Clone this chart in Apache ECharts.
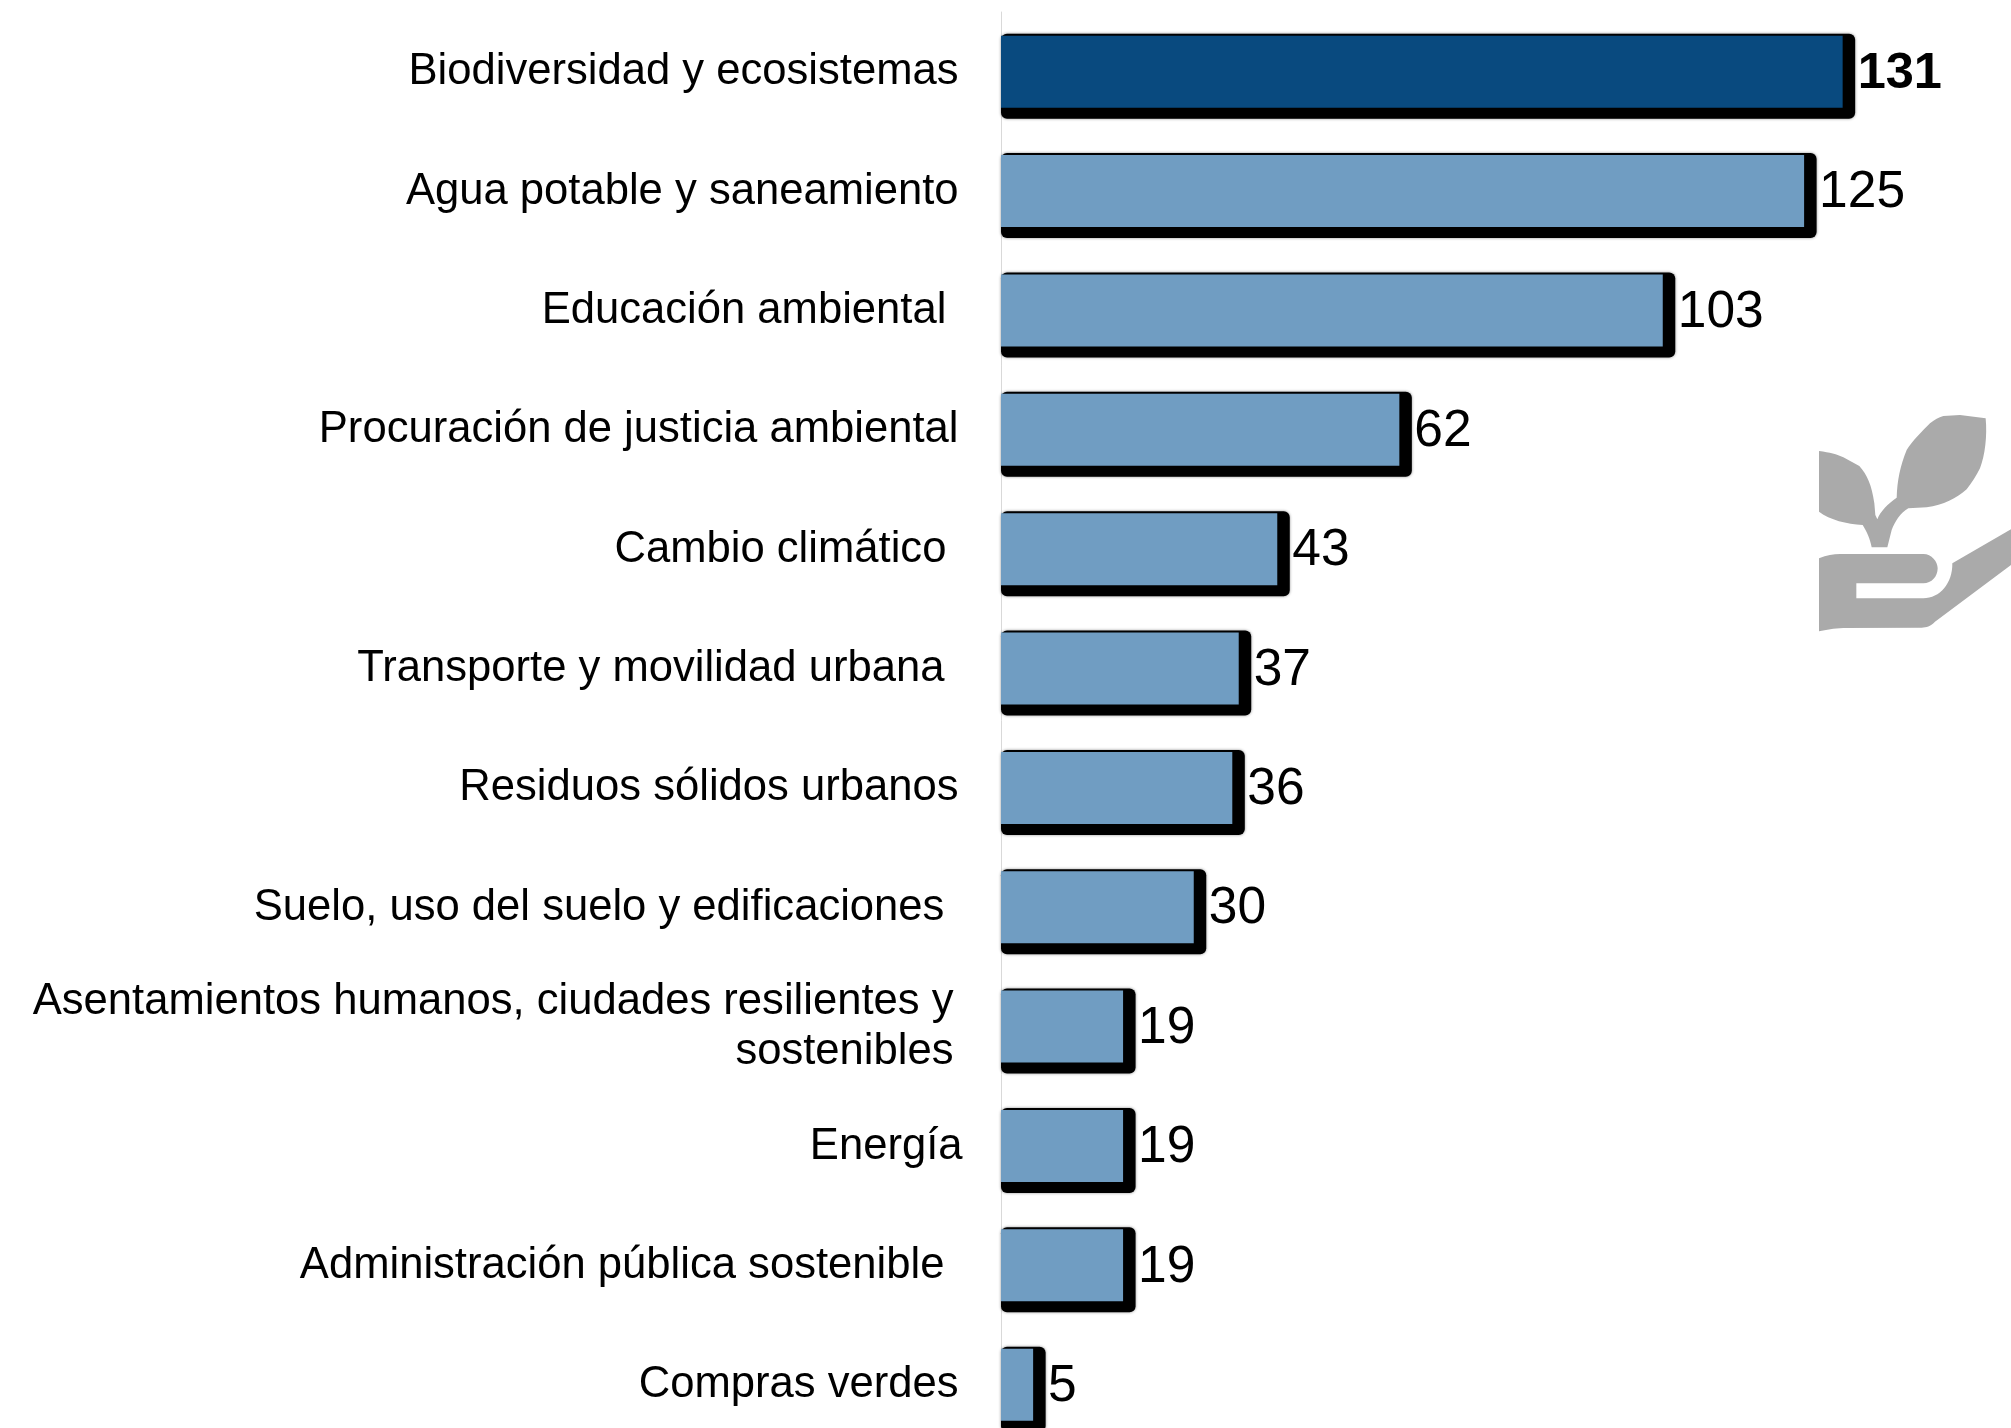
<!DOCTYPE html>
<html><head><meta charset="utf-8">
<style>html,body{margin:0;padding:0;background:#fff}#c{width:2011px;height:1428px}</style>
<script src="https://cdn.jsdelivr.net/npm/echarts@6/dist/echarts.min.js"></script>
</head><body><div id="c"></div>
<script>
const categories = [
  "Biodiversidad y ecosistemas",
  "Agua potable y saneamiento",
  "Educación ambiental ",
  "Procuración de justicia ambiental",
  "Cambio climático ",
  "Transporte y movilidad urbana ",
  "Residuos sólidos urbanos",
  "Suelo, uso del suelo y edificaciones ",
  "Asentamientos humanos, ciudades resilientes y\nsostenibles",
  "Energía",
  "Administración pública sostenible ",
  "Compras verdes"
];
const values = [131,125,103,62,43,37,36,30,19,19,19,5];
const highlighted = "Biodiversidad y ecosistemas";

const DARK = '#094A7F', LIGHT = '#709DC2';
const FONT = '"Liberation Sans", Arial, sans-serif';
const iconPath = 'M490 48 L540 45 L617 55 C622 110 615 165 600 205 C590 225 575 250 560 268 C530 295 490 315 440 322 L385 325 C360 340 345 365 335 390 L322 442 L275 442 C270 415 260 395 248 375 C200 372 150 360 117 335 L117 153 C150 157 170 163 190 172 L238 198 C262 225 275 255 283 310 L286 345 L292 358 C300 335 325 310 350 293 C352 240 360 200 380 150 C395 125 430 90 450 70 C465 58 475 52 490 48 Z '
 + 'M117 475 C140 465 160 462 180 462 L430 462 C455 462 473 485 473 505 C473 530 455 550 430 550 L229 550 L229 595 L430 595 C480 595 518 550 517 490 L693 388 L693 495 L465 665 C450 680 440 682 425 683 L190 684 C160 685 140 690 117 694 Z';

function labelStyle(pad, top){
  return {color:'#000', fontFamily:FONT, fontSize:43.6, lineHeight:50, padding:[top,pad,0,0]};
}
function labelKey(name){
  if (name.startsWith('Energ')) return 'a';
  if (name.startsWith('Asent')) return 'd';
  if (/^(Transporte|Suelo|Administr)/.test(name)) return 'c';
  return 'b';
}

const chart = echarts.init(document.getElementById('c'), null, {renderer:'canvas'});
chart.setOption({
  animation:false,
  backgroundColor:'#fff',
  grid:{left:1001, top:12, width:1008.7, height:1432.4, outerBoundsMode:'none', containLabel:false},
  xAxis:{type:'value', min:0, max:157, show:false, splitLine:{show:false}},
  yAxis:{type:'category', inverse:true, data:categories,
    axisTick:{show:false},
    axisLine:{show:true, lineStyle:{color:'#d9d9d9', width:1}},
    axisLabel:{margin:38.5, align:'right', interval:0,
      formatter:function(v){
        const k = labelKey(v);
        return v.split('\n').map(l=>'{'+k+'|'+l+'}').join('\n');
      },
      rich:{a:labelStyle(0,1), b:labelStyle(4,1), c:labelStyle(6,1), d:labelStyle(9,0)}}
  },
  series:[
    {type:'custom', name:'icono', coordinateSystem:'none', z:1, silent:true, data:[0],
      renderItem:function(){
        return {type:'path', shape:{pathData:iconPath, x:1819, y:415, width:192, height:216.3}, style:{fill:'#aaaaaa'}};
      }},
    {type:'custom', name:'sombra', z:2, silent:true, clip:false,
      encode:{x:0,y:1},
      data:values.map((v,i)=>[v,i]),
      renderItem:function(params,api){
        const end = api.coord([api.value(0), api.value(1)]);
        const start = api.coord([0, api.value(1)]);
        return {type:'rect', shape:{x:start[0], y:end[1]-38, width:end[0]-start[0]+12.5, height:85, r:6},
          style:{fill:'#000', shadowBlur:3, shadowColor:'rgba(0,0,0,0.45)'}};
      }},
    {type:'bar', name:'Total', z:3, barWidth:72, clip:false,
      data:values.map((v,i)=>({value:v, itemStyle:{color:categories[i]===highlighted?DARK:LIGHT},
        label:categories[i]===highlighted?{fontWeight:'bold', fontSize:50.5}:{}})),
      label:{show:true, position:'right', distance:15, offset:[0,2], color:'#000', fontFamily:FONT, fontSize:51.5}}
  ]
});
</script></body></html>
